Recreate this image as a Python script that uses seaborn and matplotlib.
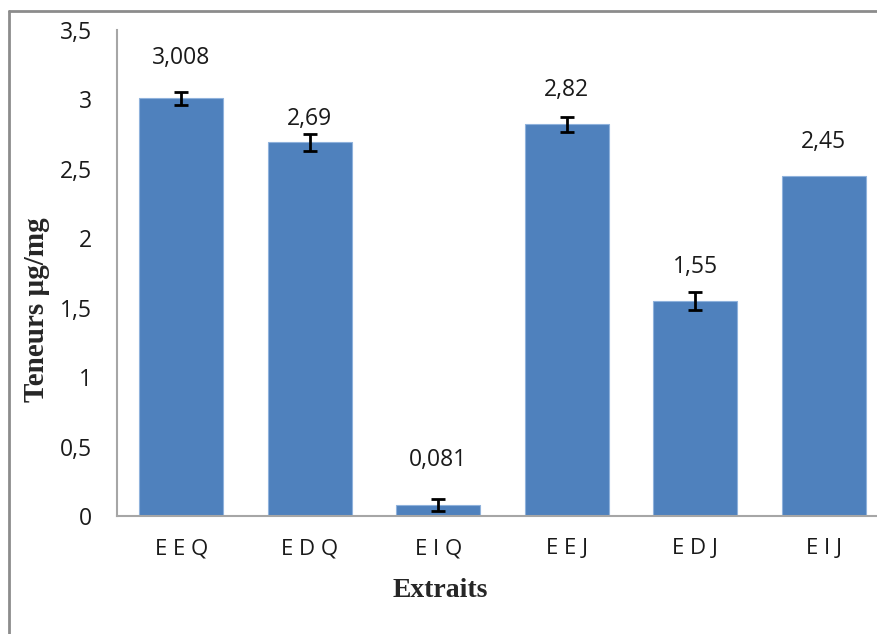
import matplotlib
matplotlib.use("Agg")
import matplotlib.pyplot as plt
from matplotlib.lines import Line2D
import seaborn as sns
import pandas as pd

# Teneurs par extrait (µg/mg) et écarts-types
extraits = ["E E Q", "E D Q", "E I Q", "E E J", "E D J", "E I J"]
teneurs = [3.008, 2.69, 0.081, 2.82, 1.55, 2.45]
ecarts = [0.045, 0.06, 0.043, 0.054, 0.065, 0.0]
etiquettes = ["3,008", "2,69", "0,081", "2,82", "1,55", "2,45"]
yticks = [0, 0.5, 1, 1.5, 2, 2.5, 3, 3.5]
ytick_labels = ["0", "0,5", "1", "1,5", "2", "2,5", "3", "3,5"]

# vertical placement of each value label centre above its bar (points)
label_offsets = [29, 17, 32, 25, 24, 24]

sns.set_theme(style="white")
plt.rcParams["font.family"] = ["Open Sans", "DejaVu Sans"]

df = pd.DataFrame({"Extrait": extraits, "Teneur": teneurs})

fig = plt.figure(figsize=(8.77, 6.34), dpi=100)
ax = fig.add_axes([117 / 877, 1 - 516 / 634, 771 / 877, 486 / 634])

sns.barplot(data=df, x="Extrait", y="Teneur", color="#4F81BD", width=0.65,
            edgecolor="#8fb2dc", linewidth=0.8, saturation=1, ax=ax)

xs = range(len(extraits))
for x, v, e in zip(xs, teneurs, ecarts):
    if e > 0:
        ax.errorbar(x, v, yerr=e, fmt="none", ecolor="black", elinewidth=2,
                    capsize=5, capthick=2, zorder=5)

for x, v, lab, off in zip(xs, teneurs, etiquettes, label_offsets):
    ax.annotate(lab, (x, v), xytext=(0, off), textcoords="offset points",
                ha="center", va="center", fontsize=16.5, color="#1a1a1a")

ax.set_ylim(0, 3.5)
ax.set_xlim(-0.5, len(extraits) - 0.5)
ax.set_yticks(yticks)
ax.set_yticklabels(ytick_labels, fontsize=16.5, color="#1a1a1a")
ax.tick_params(axis="y", length=0, pad=18)
ax.tick_params(axis="x", length=0, pad=16, labelsize=16, labelcolor="#1a1a1a")

for side in ["top", "right"]:
    ax.spines[side].set_visible(False)
for side in ["left", "bottom"]:
    ax.spines[side].set_color("#a6a6a6")
    ax.spines[side].set_linewidth(1.5)

ax.set_xlabel("Extraits", fontsize=20, fontweight="bold",
              family=["Liberation Serif", "DejaVu Serif"])
ax.xaxis.set_label_coords(0.419, -0.128)
ax.set_ylabel("Teneurs µg/mg", fontsize=21, fontweight="bold",
              family=["Liberation Serif", "DejaVu Serif"])
ax.yaxis.set_label_coords(-0.087, 0.424)

# chart area frame
fig.add_artist(Line2D([9 / 877, 9 / 877], [0, 1 - 11 / 634],
                      transform=fig.transFigure, color="#8c8c8c", lw=2))
fig.add_artist(Line2D([9 / 877, 1], [1 - 11 / 634, 1 - 11 / 634],
                      transform=fig.transFigure, color="#8c8c8c", lw=2))

fig.savefig("out.png", dpi=100)
